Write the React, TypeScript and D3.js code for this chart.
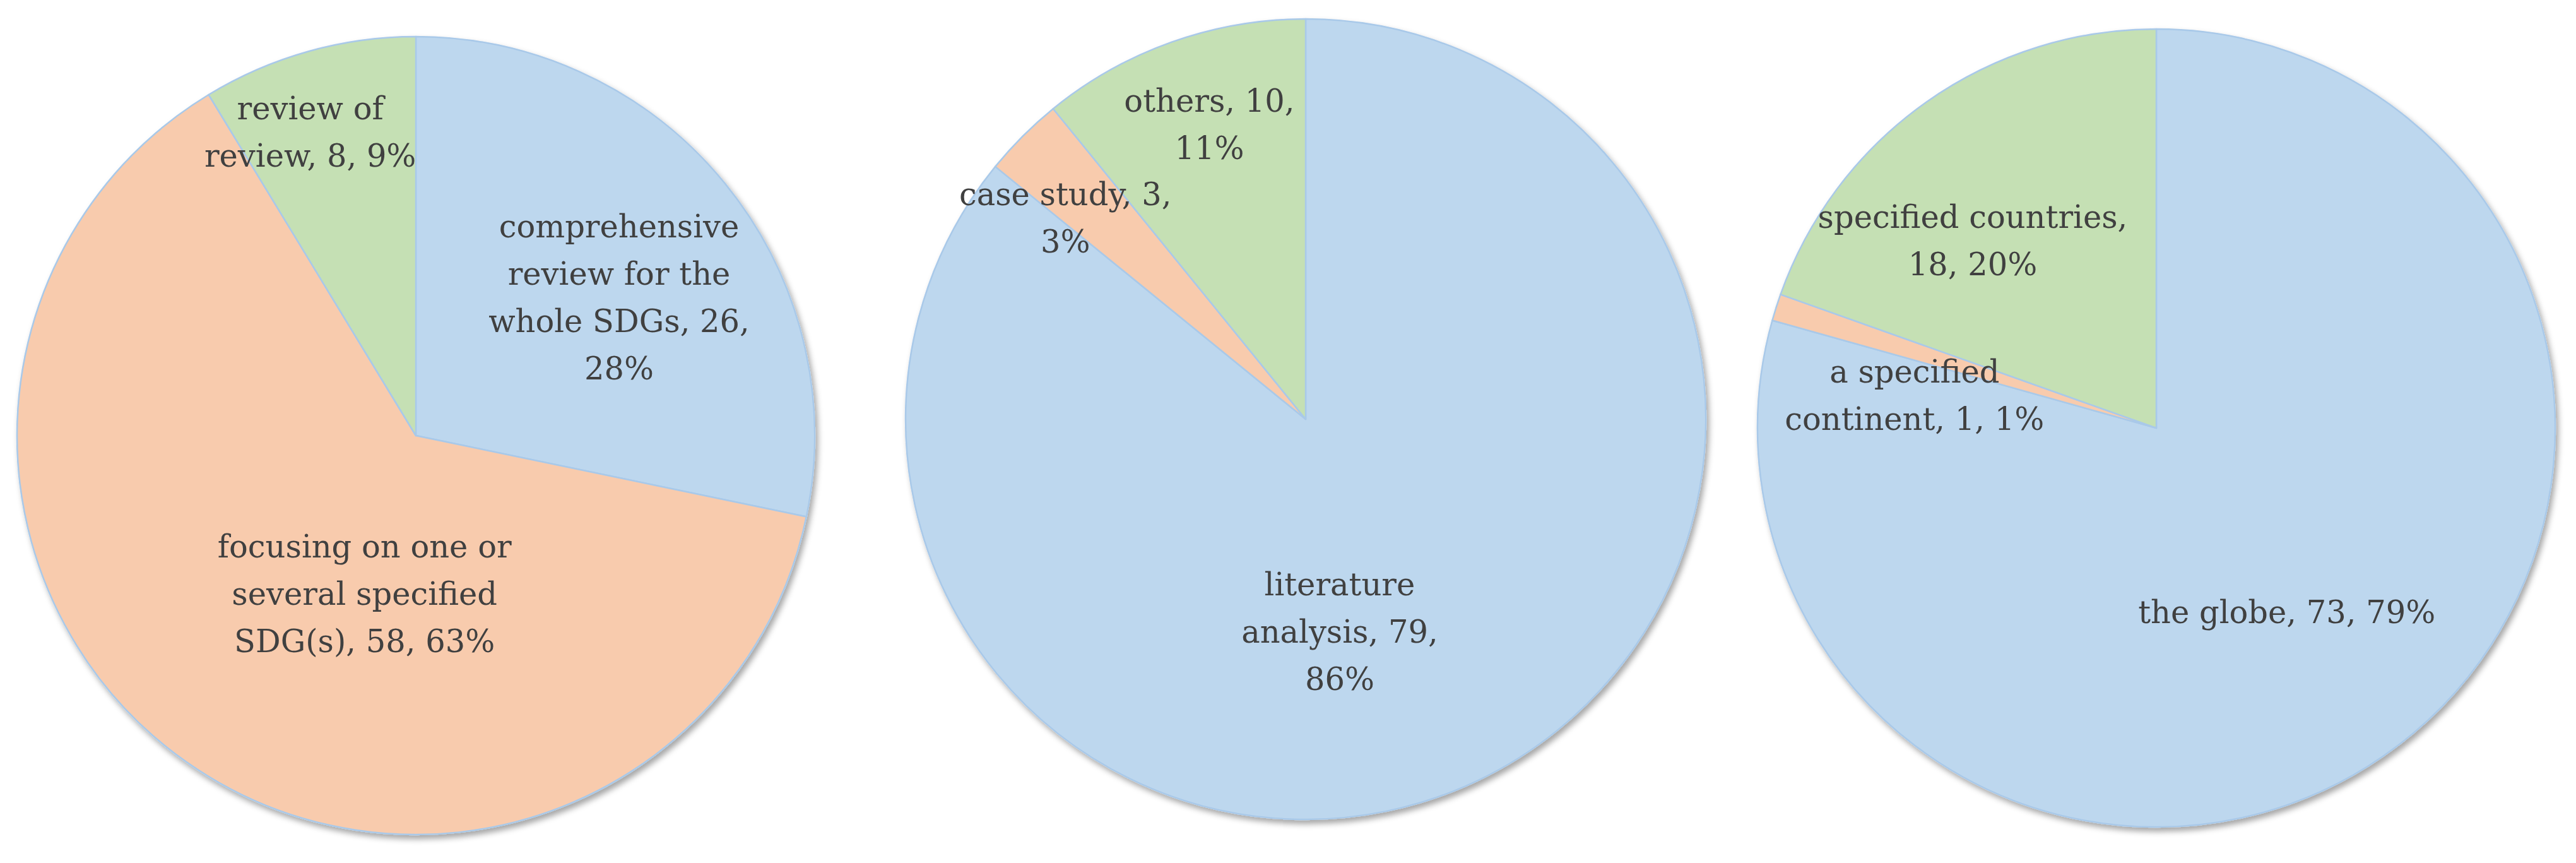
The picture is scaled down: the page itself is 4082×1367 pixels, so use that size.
import React from "react";
import * as d3 from "d3";

const W = 4082;
const H = 1367;

// ---- data ----
const pie1Categories = [
  "comprehensive review for the whole SDGs",
  "focusing on one or several specified SDG(s)",
  "review of review",
];
const pie1Values = [26, 58, 8];
const pie1LabelLines = [
  ["comprehensive", "review for the", "whole SDGs, 26,", "28%"],
  ["focusing on one or", "several specified", "SDG(s), 58, 63%"],
  ["review of", "review, 8, 9%"],
];

const pie2Categories = ["literature analysis", "case study", "others"];
const pie2Values = [79, 3, 10];
const pie2LabelLines = [
  ["literature", "analysis, 79,", "86%"],
  ["case study, 3,", "3%"],
  ["others, 10,", "11%"],
];

const pie3Categories = ["the globe", "a specified continent", "specified countries"];
const pie3Values = [73, 1, 18];
const pie3LabelLines = [
  ["the globe, 73, 79%"],
  ["a specified", "continent, 1, 1%"],
  ["specified countries,", "18, 20%"],
];

const sliceColors = ["#BDD7EE", "#F8CBAD", "#C5E0B4"];

// ---- layout ----
const FONT = "'DejaVu Serif', serif";
const FONT_SIZE = 49.5;
const LINE_H = 75;
const CAP_HALF = 18;

const layouts = [
  { cx: 659, cy: 690, r: 632, label: [[0.617, 4.8], [0.416, -17.2], [0.807, -3.5]] },
  { cx: 2069, cy: 664, r: 634, label: [[0.536, 16.3], [0.784, -5], [0.776, 1.5]] },
  { cx: 3417, cy: 678, r: 632, label: [[0.565, 1.8], [0.612, -9.8], [0.658, -9.2]] },
];

const charts = [
  { categories: pie1Categories, values: pie1Values, lines: pie1LabelLines },
  { categories: pie2Categories, values: pie2Values, lines: pie2LabelLines },
  { categories: pie3Categories, values: pie3Values, lines: pie3LabelLines },
];

function Pie({ chart, layout }: any) {
  const pieGen = d3.pie<number>().sort(null).value((d) => d).startAngle(0).endAngle(2 * Math.PI);
  const arcs = pieGen(chart.values);
  const arcGen = d3.arc<d3.PieArcDatum<number>>().innerRadius(0).outerRadius(layout.r);
  return (
    <g>
      <g transform={`translate(${layout.cx},${layout.cy})`} filter="url(#shadow)">
        {arcs.map((a: any, i: number) => (
          <path
            key={i}
            d={arcGen(a) || ""}
            fill={sliceColors[i]}
            stroke="#A9C9E9"
            strokeWidth={2.5}
            strokeLinejoin="round"
          >
            <title>{chart.categories[i]}</title>
          </path>
        ))}
      </g>
      {arcs.map((a: any, i: number) => {
        const [dist, off] = layout.label[i];
        const ang = (a.startAngle + a.endAngle) / 2 + (off * Math.PI) / 180;
        const x = layout.cx + dist * layout.r * Math.sin(ang);
        const y = layout.cy - dist * layout.r * Math.cos(ang);
        const lines: string[] = chart.lines[i];
        const n = lines.length;
        return (
          <text
            key={"t" + i}
            textAnchor="middle"
            style={{ fontFamily: FONT, fontSize: FONT_SIZE }}
            fill="#404040"
          >
            {lines.map((ln, j) => (
              <tspan key={j} x={x} y={y + (j - (n - 1) / 2) * LINE_H + CAP_HALF}>
                {ln}
              </tspan>
            ))}
          </text>
        );
      })}
    </g>
  );
}

export default function App() {
  return (
    <svg
      width={W}
      height={H}
      viewBox={`0 0 ${W} ${H}`}
      style={{ position: "absolute", left: 0, top: 0, display: "block", background: "#ffffff" }}
    >
      <defs>
        <filter id="shadow" x="-10%" y="-10%" width="125%" height="125%">
          <feDropShadow dx="4" dy="6" stdDeviation="5" floodColor="#000000" floodOpacity="0.35" />
        </filter>
      </defs>
      <rect x={0} y={0} width={W} height={H} fill="#ffffff" />
      {charts.map((c, i) => (
        <Pie key={i} chart={c} layout={layouts[i]} />
      ))}
    </svg>
  );
}
